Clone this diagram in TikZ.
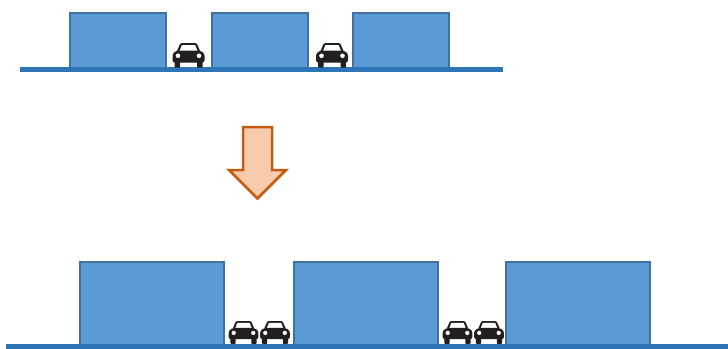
\documentclass[tikz,border=0pt]{standalone}
\definecolor{bfill}{HTML}{5B9BD5}
\definecolor{bedge}{HTML}{41719C}
\definecolor{road}{HTML}{2E75B6}
\definecolor{afill}{HTML}{F8CBAD}
\definecolor{aedge}{HTML}{C55A11}
\definecolor{carc}{HTML}{231F20}
\tikzset{
  x=1pt,y=-1pt,
  bldg/.style={draw=bedge,fill=bfill,line width=2.4pt,outer sep=0pt,inner sep=0pt,anchor=north west},
  upper/.style={bldg,minimum width=96pt,minimum height=56pt},
  lower/.style={bldg,minimum width=144pt,minimum height=83pt},
  roadline/.style={draw=road,line width=5pt},
  car/.pic={
    % wheels
    \fill[carc,rounded corners=0.6] (-14,17) rectangle (-8.5,24.5);
    \fill[carc,rounded corners=0.6] (8.5,17) rectangle (14,24.5);
    % roof
    \fill[carc] (-11.5,8) -- (-8.5,1) -- (-6.5,0) -- (6.5,0) -- (8.5,1) -- (11.5,8) -- cycle;
    \fill[white] (-9,8) -- (-6.6,2) -- (6.6,2) -- (9,8) -- cycle;
    % body
    \fill[carc,rounded corners=2.2] (-16,19.5) -- (-16,10.5) -- (-11.5,7.5) -- (11.5,7.5) -- (16,10.5) -- (16,19.5) -- cycle;
    % lights
    \fill[white] (-10.5,12.8) circle (2.3);
    \fill[white] (10.5,12.8) circle (2.3);
  }
}
\begin{document}
\begin{tikzpicture}
\useasboundingbox (0,0) rectangle (728,348);
% upper row
\node[upper] (a1) at (69.8,12.7) {};
\node[upper] (a2) at (212.2,12.7) {};
\node[upper] (a3) at (353.2,12.7) {};
\draw[roadline] (20,69.5) -- (503,69.5);
\pic at (188.5,43) {car};
\pic at (332,43) {car};
% arrow
\draw[draw=aedge,fill=afill,line width=2.5pt,miter limit=4] (243,127) -- (272,127) -- (272,170) -- (286,170) -- (257.5,198.5) -- (229,170) -- (243,170) -- cycle;
% lower row
\node[lower] (b1) at (80.2,261.7) {};
\node[lower] (b2) at (293.7,261.7) {};
\node[lower] (b3) at (506.2,261.7) {};
\draw[roadline] (6,346.3) -- (728,346.3);
\foreach \cx in {243.5,275,457.5,489}
  \pic[scale=0.93] at (\cx,321) {car};
\end{tikzpicture}
\end{document}
